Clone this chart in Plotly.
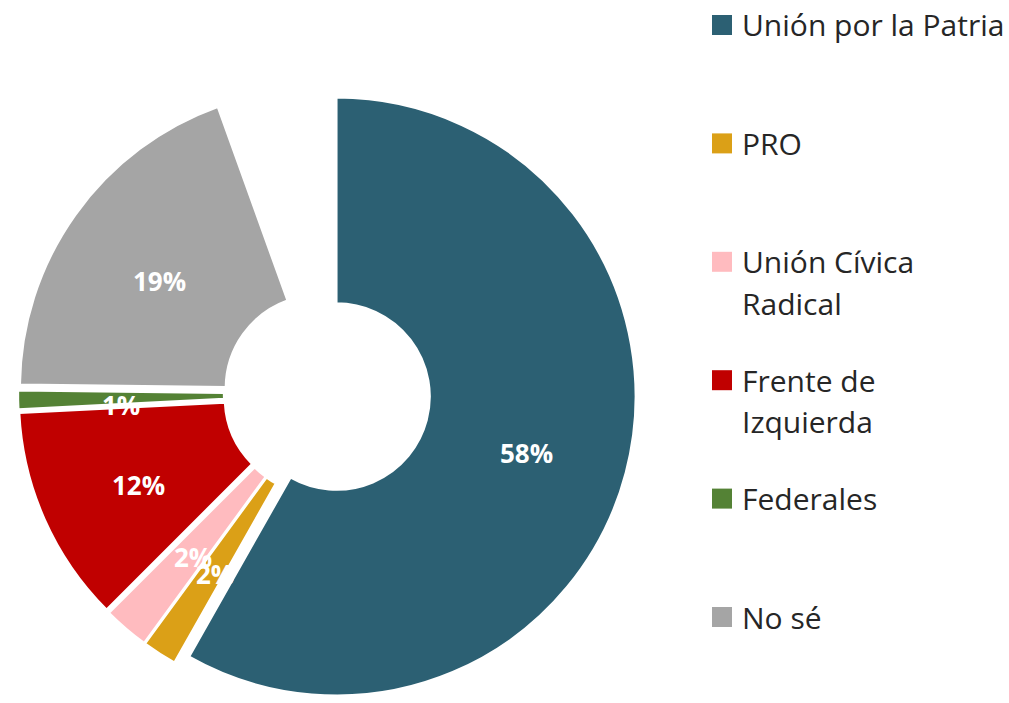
import math
import plotly.graph_objects as go

# ---------------- data ----------------
parties = ["Unión por la Patria", "PRO", "Unión Cívica Radical",
           "Frente de Izquierda", "Federales", "No sé"]
legend_lines = [["Unión por la Patria"], ["PRO"], ["Unión Cívica", "Radical"],
                ["Frente de", "Izquierda"], ["Federales"], ["No sé"]]
shares = [58.2, 1.85, 2.45, 11.7, 1.0, 19.3]          # percent
colors = ["#2C6073", "#DBA017", "#FFBBBF", "#C00000", "#548235", "#A5A5A5"]
not_shown = round(100 - sum(shares), 2)                # remainder, not drawn

# ---------------- geometry ----------------
W, H = 1009, 703
CX, CY = 327, 394          # pie centre (px)
R = 299                    # outer radius (px)
PULL = 0.033
HOLE = 0.312
half = R * (1 + PULL)
dom_x = [max(0, (CX - half) / W), min(1, (CX + half) / W)]
dom_y = [max(0, 1 - (CY + half) / H), min(1, 1 - (CY - half) / H)]

fig = go.Figure(go.Pie(
    labels=parties + [" "],
    values=shares + [not_shown],
    sort=False,
    direction="clockwise",
    rotation=0,
    hole=HOLE,
    pull=[PULL] * len(shares) + [0],
    marker=dict(colors=colors + ["rgba(0,0,0,0)"],
                line=dict(color="white", width=[2] * len(shares) + [0])),
    textinfo="none",
    hoverinfo="label+percent",
    domain=dict(x=dom_x, y=dom_y),
    showlegend=False,
))

# ---------------- slice labels ----------------
annotations = []
rmid = R * (1 + HOLE) / 2
LABEL_DY = 7
cum = 0.0
for v in shares:
    mid = math.radians((cum + v / 2) / 100 * 360)
    cum += v
    px = CX + (PULL * R + rmid) * math.sin(mid)
    py = CY - (PULL * R + rmid) * math.cos(mid) + LABEL_DY
    annotations.append(dict(
        x=px / W, y=1 - py / H, xref="paper", yref="paper",
        text=f"<b>{round(v):d}%</b>", showarrow=False,
        xanchor="center", yanchor="middle",
        font=dict(family="Open Sans", size=26, color="white")))

# ---------------- custom legend ----------------
shapes = []
LX0, LX1 = 712, 732
TX = 740
Y0, DY, LINE = 25, 118.4, 41.5
for i, (lines, col) in enumerate(zip(legend_lines, colors)):
    yc = Y0 + DY * i
    shapes.append(dict(type="rect", xref="paper", yref="paper",
                       x0=LX0 / W, x1=LX1 / W,
                       y0=1 - (yc - 10) / H, y1=1 - (yc + 10) / H,
                       fillcolor=col, line=dict(width=0)))
    for j, t in enumerate(lines):
        annotations.append(dict(
            x=TX / W, y=1 - (yc + LINE * j) / H, xref="paper", yref="paper",
            text=t, showarrow=False, xanchor="left", yanchor="middle",
            font=dict(family="Open Sans", size=30, color="#262626")))

fig.update_layout(
    width=W, height=H,
    margin=dict(l=0, r=0, t=0, b=0),
    paper_bgcolor="white", plot_bgcolor="white",
    showlegend=False,
    annotations=annotations,
    shapes=shapes,
)

fig.write_html("out.html",
               config={"displayModeBar": False},
               post_script="document.body.style.margin='0px';"
                           "document.body.style.overflow='hidden';")
